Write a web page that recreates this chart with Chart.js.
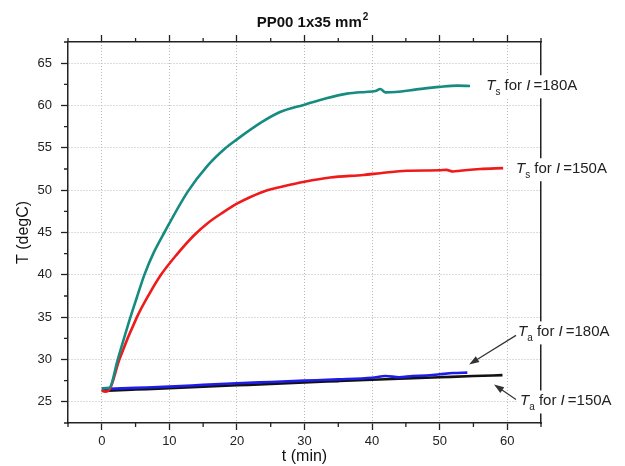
<!DOCTYPE html>
<html>
<head>
<meta charset="utf-8">
<script src="https://cdn.jsdelivr.net/npm/chart.js@4.4.0/dist/chart.umd.min.js"></script>
<style>
  html, body { margin: 0; padding: 0; background: #fff; }
  #wrap { width: 625px; height: 466px; }
</style>
</head>
<body>
<div id="wrap"><canvas id="chart"></canvas></div>
<script>
// Ts, I=180A : time (min) / temperature (degC)
const tS180 = [0, 1.1, 2.36, 4.24, 5.2, 6.3, 7.7, 9.26, 12.7, 15.66, 18.2, 20, 23.6, 26.3, 30, 33, 36.3, 39, 40.5, 41.2, 42, 43.5, 46.6, 50, 52.6, 54.5];
const vS180 = [26.6, 26.65, 30, 35, 37.35, 40, 42.65, 45, 49.8, 52.9, 54.9, 56.0, 58.0, 59.2, 60.1, 60.8, 61.4, 61.6, 61.7, 61.95, 61.55, 61.6, 61.9, 62.2, 62.35, 62.3];

// Ts, I=150A
const tS150 = [0, 0.5, 1.1, 2.6, 5.2, 7, 8.76, 11, 13.7, 15.66, 18, 20, 22, 24.5, 26.3, 30, 33.8, 38.7, 41.2, 45.1, 50, 51, 52, 53, 56, 59.4];
const vS150 = [26.4, 26.2, 26.4, 30, 35, 37.7, 40, 42.3, 44.7, 46.1, 47.4, 48.4, 49.2, 50, 50.35, 51, 51.5, 51.8, 52, 52.3, 52.35, 52.4, 52.2, 52.3, 52.5, 52.6];

// Ta, I=180A
const tA180 = [0, 5, 10, 15, 20, 25, 30, 35, 40, 42, 44, 46, 48, 50, 52, 54.1];
const vA180 = [26.5, 26.65, 26.8, 27.0, 27.2, 27.35, 27.5, 27.65, 27.85, 28.05, 27.9, 28.05, 28.1, 28.25, 28.4, 28.45];

// Ta, I=150A
const tA150 = [0, 5, 10, 15, 20, 25, 30, 35, 40, 45, 50, 55, 59.3];
const vA150 = [26.3, 26.45, 26.6, 26.8, 26.95, 27.1, 27.3, 27.45, 27.6, 27.75, 27.9, 28.05, 28.15];

const xTickLabels = [0, 10, 20, 30, 40, 50, 60];
const yTickLabels = [25, 30, 35, 40, 45, 50, 55, 60, 65];
const xMinor = [-5, 5, 15, 25, 35, 45, 55, 65];
const yMinor = [22.5, 27.5, 32.5, 37.5, 42.5, 47.5, 52.5, 57.5, 62.5, 67.5];

const FONT = '"Liberation Sans", Arial, sans-serif';
const INK = '#222';

const pts = (ts, vs) => ts.map((t, i) => ({ x: t, y: vs[i] }));

// curve labels, anchored in data units
const notes = [
    { sub: 's', amps: '180A', at: [56.9, 61.8] },
    { sub: 's', amps: '150A', at: [61.3, 52.0] },
    { sub: 'a', amps: '180A', at: [61.6, 32.73], arrow: [[61.3, 32.85], [54.36, 29.42]] },
    { sub: 'a', amps: '150A', at: [61.9, 24.57], arrow: [[61.3, 25.28], [58.05, 27.05]] }
];

function drawNote(ctx, x, y, sub, amps) {
    const parts = [
        ['T', 'italic 15px ', 0, 0],
        [sub, '10px ', 5, 0],
        [' for ', '15px ', 0, 0],
        ['I', 'italic 15px ', 0, 3],
        ['=' + amps, '15px ', 0, 0]
    ];
    let w = 0;
    parts.forEach(p => { ctx.font = p[1] + FONT; w += ctx.measureText(p[0]).width + p[3]; });
    // white box breaks the frame behind the text
    ctx.fillStyle = '#fff';
    ctx.fillRect(x - 3, y - 15, w + 6, 23);
    ctx.fillStyle = INK;
    ctx.textAlign = 'left';
    ctx.textBaseline = 'alphabetic';
    parts.forEach(p => {
        ctx.font = p[1] + FONT;
        ctx.fillText(p[0], x, y + p[2]);
        x += ctx.measureText(p[0]).width + p[3];
    });
}

function drawArrow(ctx, x1, y1, x2, y2) {
    const a = Math.atan2(y2 - y1, x2 - x1);
    const len = 10, w = 3.5;
    ctx.strokeStyle = '#333';
    ctx.fillStyle = '#333';
    ctx.lineWidth = 1.2;
    ctx.beginPath();
    ctx.moveTo(x1, y1);
    ctx.lineTo(x2 - Math.cos(a) * len * 0.8, y2 - Math.sin(a) * len * 0.8);
    ctx.stroke();
    ctx.beginPath();
    ctx.moveTo(x2, y2);
    ctx.lineTo(x2 - Math.cos(a) * len - Math.sin(a) * w, y2 - Math.sin(a) * len + Math.cos(a) * w);
    ctx.lineTo(x2 - Math.cos(a) * len + Math.sin(a) * w, y2 - Math.sin(a) * len - Math.cos(a) * w);
    ctx.closePath();
    ctx.fill();
}

const decor = {
    id: 'decor',
    afterDraw(chart) {
        const { ctx, chartArea: area, scales: { x, y } } = chart;
        ctx.save();
        ctx.setLineDash([]);
        // short minor ticks
        ctx.strokeStyle = INK;
        ctx.lineWidth = 1.3;
        ctx.beginPath();
        xMinor.forEach(v => {
            const p = x.getPixelForValue(v);
            ctx.moveTo(p, area.bottom); ctx.lineTo(p, area.bottom + 4);
            ctx.moveTo(p, area.top); ctx.lineTo(p, area.top - 4);
        });
        yMinor.forEach(v => {
            const p = y.getPixelForValue(v);
            ctx.moveTo(area.left, p); ctx.lineTo(area.left - 4, p);
        });
        ctx.stroke();

        // title with superscript
        ctx.textBaseline = 'alphabetic';
        ctx.textAlign = 'left';
        ctx.fillStyle = '#111';
        ctx.font = 'bold 15px ' + FONT;
        const main = 'PP00 1x35 mm';
        const wMain = ctx.measureText(main).width;
        ctx.font = 'bold 10px ' + FONT;
        const wSup = ctx.measureText('2').width;
        const x0 = 312 - (wMain + wSup) / 2;
        ctx.font = 'bold 15px ' + FONT;
        ctx.fillText(main, x0, 27);
        ctx.font = 'bold 10px ' + FONT;
        ctx.fillText('2', x0 + wMain + 1, 20);

        notes.forEach(n => {
            drawNote(ctx, x.getPixelForValue(n.at[0]), y.getPixelForValue(n.at[1]), n.sub, n.amps);
            if (n.arrow) {
                drawArrow(ctx,
                    x.getPixelForValue(n.arrow[0][0]), y.getPixelForValue(n.arrow[0][1]),
                    x.getPixelForValue(n.arrow[1][0]), y.getPixelForValue(n.arrow[1][1]));
            }
        });
        ctx.restore();
    }
};

const gridGray = '#b8b8b8';
const clear = 'rgba(0,0,0,0)';
const tickFont = { family: FONT, size: 13 };

new Chart(document.getElementById('chart'), {
    type: 'line',
    data: {
        datasets: [
            { label: 'Ts 180A', data: pts(tS180, vS180), borderColor: '#168b80', borderWidth: 2.6 },
            { label: 'Ts 150A', data: pts(tS150, vS150), borderColor: '#ef1b1b', borderWidth: 2.6 },
            { label: 'Ta 180A', data: pts(tA180, vA180), borderColor: '#1d1de6', borderWidth: 2.6 },
            { label: 'Ta 150A', data: pts(tA150, vA150), borderColor: '#111111', borderWidth: 2.6 }
        ]
    },
    options: {
        responsive: true,
        maintainAspectRatio: false,
        animation: false,
        layout: { padding: 0 },
        elements: {
            point: { radius: 0 },
            line: { cubicInterpolationMode: 'monotone', fill: false }
        },
        plugins: { legend: { display: false }, tooltip: { enabled: false } },
        scales: {
            x: {
                type: 'linear', min: -5, max: 65,
                afterFit: s => { s.height = 43; },
                ticks: {
                    stepSize: 5, autoSkip: false, maxRotation: 0, padding: 4,
                    color: INK, font: tickFont,
                    callback: v => xTickLabels.includes(v) ? String(v) : ''
                },
                grid: {
                    color: c => c.tick && c.tick.value % 10 === 0 ? gridGray : clear,
                    tickColor: c => c.tick && c.tick.value % 10 === 0 ? INK : clear,
                    tickWidth: 1.3, tickLength: 7, lineWidth: 1
                },
                border: { color: INK, width: 1.5, dash: [1, 2] },
                title: { display: true, text: 't (min)', color: '#111', font: { family: FONT, size: 16 }, padding: { top: 0, bottom: 0 } }
            },
            x2: {
                type: 'linear', position: 'top', min: -5, max: 65,
                afterFit: s => { s.height = 42; },
                ticks: { stepSize: 5, autoSkip: false, display: false },
                grid: {
                    drawOnChartArea: false, color: INK,
                    tickColor: c => c.tick && c.tick.value % 10 === 0 ? INK : clear,
                    tickWidth: 1.3, tickLength: 7
                },
                border: { color: INK, width: 1.5 }
            },
            y: {
                type: 'linear', min: 22.5, max: 67.5,
                afterFit: s => { s.width = 68; },
                ticks: {
                    stepSize: 2.5, autoSkip: false, padding: 9,
                    color: INK, font: tickFont,
                    callback: v => yTickLabels.includes(v) ? String(v) : ''
                },
                grid: {
                    color: c => c.tick && c.tick.value % 5 === 0 ? gridGray : clear,
                    tickColor: c => c.tick && c.tick.value % 5 === 0 ? INK : clear,
                    tickWidth: 1.3, tickLength: 7, lineWidth: 1
                },
                border: { color: INK, width: 1.5, dash: [1, 2] },
                title: { display: true, text: 'T (degC)', color: '#111', font: { family: FONT, size: 16 }, padding: { top: 14, bottom: 0 } }
            },
            y2: {
                type: 'linear', position: 'right', min: 22.5, max: 67.5,
                afterFit: s => { s.width = 84; },
                ticks: { stepSize: 2.5, display: false },
                grid: { display: false, drawOnChartArea: false },
                border: { color: INK, width: 1.5 }
            }
        }
    },
    plugins: [decor]
});
</script>
</body>
</html>
